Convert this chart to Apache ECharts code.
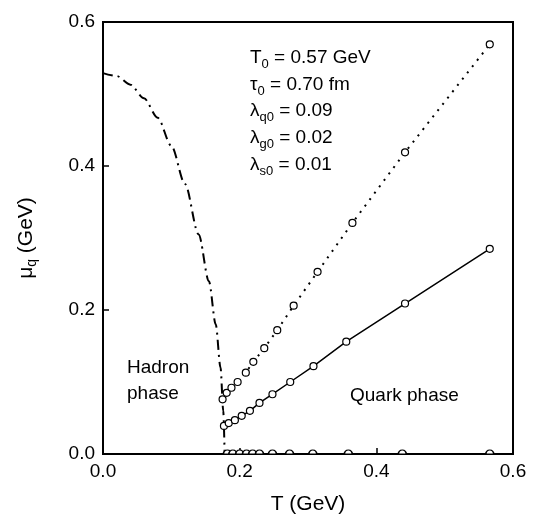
<!DOCTYPE html>
<html>
<head>
<meta charset="utf-8">
<script src="https://cdn.jsdelivr.net/npm/echarts@6/dist/echarts.min.js"></script>
<style>
  html, body { margin: 0; padding: 0; background: #fff; }
  #chart { width: 534px; height: 527px; }
</style>
</head>
<body>
<div id="chart"></div>
<script>
// values
const tempUpper = [0.175, 0.181, 0.188, 0.197, 0.209, 0.220, 0.236, 0.255, 0.279, 0.314, 0.365, 0.442, 0.566]
const muUpper = [0.076, 0.085, 0.092, 0.100, 0.113, 0.128, 0.147, 0.172, 0.206, 0.253, 0.321, 0.419, 0.569]

const tempLower = [0.177, 0.184, 0.193, 0.203, 0.215, 0.229, 0.248, 0.274, 0.308, 0.356, 0.442, 0.566]
const muLower = [0.039, 0.043, 0.047, 0.053, 0.060, 0.071, 0.083, 0.100, 0.122, 0.156, 0.209, 0.285]

const tempZero = [0.182, 0.190, 0.200, 0.210, 0.219, 0.229, 0.248, 0.273, 0.307, 0.359, 0.438, 0.566]
const muZero = [0, 0, 0, 0, 0, 0, 0, 0, 0, 0, 0, 0]

const tempBoundary = [0.000, 0.020, 0.040, 0.060, 0.080, 0.100, 0.120, 0.140, 0.155, 0.165, 0.172, 0.176, 0.178]
const muBoundary = [0.529, 0.525, 0.513, 0.494, 0.467, 0.428, 0.375, 0.305, 0.240, 0.180, 0.120, 0.060, 0.000]

const axisTicks = [0, 0.2, 0.4, 0.6]

const font = 'Liberation Sans, Arial, Helvetica, sans-serif'

function pairs (xs, ys) {
  return xs.map((x, i) => [x, ys[i]])
}

const chart = echarts.init(document.getElementById('chart'))

const axisCommon = {
  type: 'value',
  min: axisTicks[0],
  max: axisTicks[axisTicks.length - 1],
  interval: 0.2,
  axisLine: { lineStyle: { color: '#000', width: 2 } },
  axisTick: { inside: true, length: 6, lineStyle: { color: '#000', width: 1.5 } },
  axisLabel: {
    color: '#000',
    fontFamily: font,
    fontSize: 19,
    formatter: v => v.toFixed(1)
  },
  splitLine: { show: false },
  nameTextStyle: { color: '#000', fontFamily: font, fontSize: 21 }
}

const circle = {
  symbol: 'circle',
  symbolSize: 7,
  itemStyle: { color: '#fff', borderColor: '#000', borderWidth: 1.2 }
}

chart.setOption({
  animation: false,
  backgroundColor: '#fff',
  grid: {
    left: 103,
    right: 21,
    top: 22,
    bottom: 73,
    show: true,
    borderColor: '#000',
    borderWidth: 2
  },
  xAxis: Object.assign({}, axisCommon, {
    name: 'T (GeV)',
    nameLocation: 'middle',
    nameGap: 40,
    axisLabel: Object.assign({}, axisCommon.axisLabel, { margin: 8 })
  }),
  yAxis: Object.assign({}, axisCommon, {
    name: '{a|μ}{s|q}{a| (GeV)}',
    nameLocation: 'middle',
    nameRotate: 90,
    nameGap: 64,
    nameTextStyle: {
      rich: {
        a: { color: '#000', fontFamily: font, fontSize: 21, lineHeight: 26 },
        s: { color: '#000', fontFamily: font, fontSize: 14, lineHeight: 26, verticalAlign: 'bottom', padding: [10, 0, 0, 0] }
      }
    },
    axisLabel: Object.assign({}, axisCommon.axisLabel, { margin: 8 })
  }),
  series: [
    {
      type: 'line',
      data: pairs(tempBoundary, muBoundary),
      smooth: 0.3,
      smoothMonotone: 'x',
      showSymbol: false,
      lineStyle: { color: '#000', width: 2, type: [10, 5, 2, 5] }
    },
    Object.assign({
      type: 'line',
      data: pairs(tempUpper, muUpper),
      lineStyle: { color: '#000', width: 2, type: [2, 6] }
    }, circle),
    Object.assign({
      type: 'line',
      data: pairs(tempLower, muLower),
      lineStyle: { color: '#000', width: 1.5 }
    }, circle),
    {
      type: 'line',
      data: pairs(tempZero, muZero),
      symbol: 'path://M0,10 A10,10 0 0 1 20,10 Z',
      symbolSize: [8, 4],
      symbolOffset: [0, -2],
      itemStyle: { color: '#fff', borderColor: '#000', borderWidth: 1.2 },
      lineStyle: { color: '#000', width: 2, type: [12, 6] }
    }
  ],
  graphic: [
    {
      type: 'text',
      left: 250,
      top: 46,
      style: {
        text: [
          '{a|T}{s|0}{a| = 0.57 GeV}',
          '{a|τ}{s|0}{a| = 0.70 fm}',
          '{a|λ}{s|q0}{a| = 0.09}',
          '{a|λ}{s|g0}{a| = 0.02}',
          '{a|λ}{s|s0}{a| = 0.01}'
        ].join('\n'),
        rich: {
          a: { fill: '#000', fontFamily: font, fontSize: 19, lineHeight: 26.7 },
          s: { fill: '#000', fontFamily: font, fontSize: 13, lineHeight: 26.7, verticalAlign: 'bottom', padding: [12, 0, 0, 0] }
        }
      }
    },
    {
      type: 'text',
      left: 127,
      top: 355,
      style: {
        text: 'Hadron\nphase',
        fill: '#000',
        font: '19px ' + font,
        lineHeight: 26
      }
    },
    {
      type: 'text',
      left: 350,
      top: 386,
      style: {
        text: 'Quark phase',
        fill: '#000',
        font: '19px ' + font
      }
    }
  ]
})
</script>
</body>
</html>
